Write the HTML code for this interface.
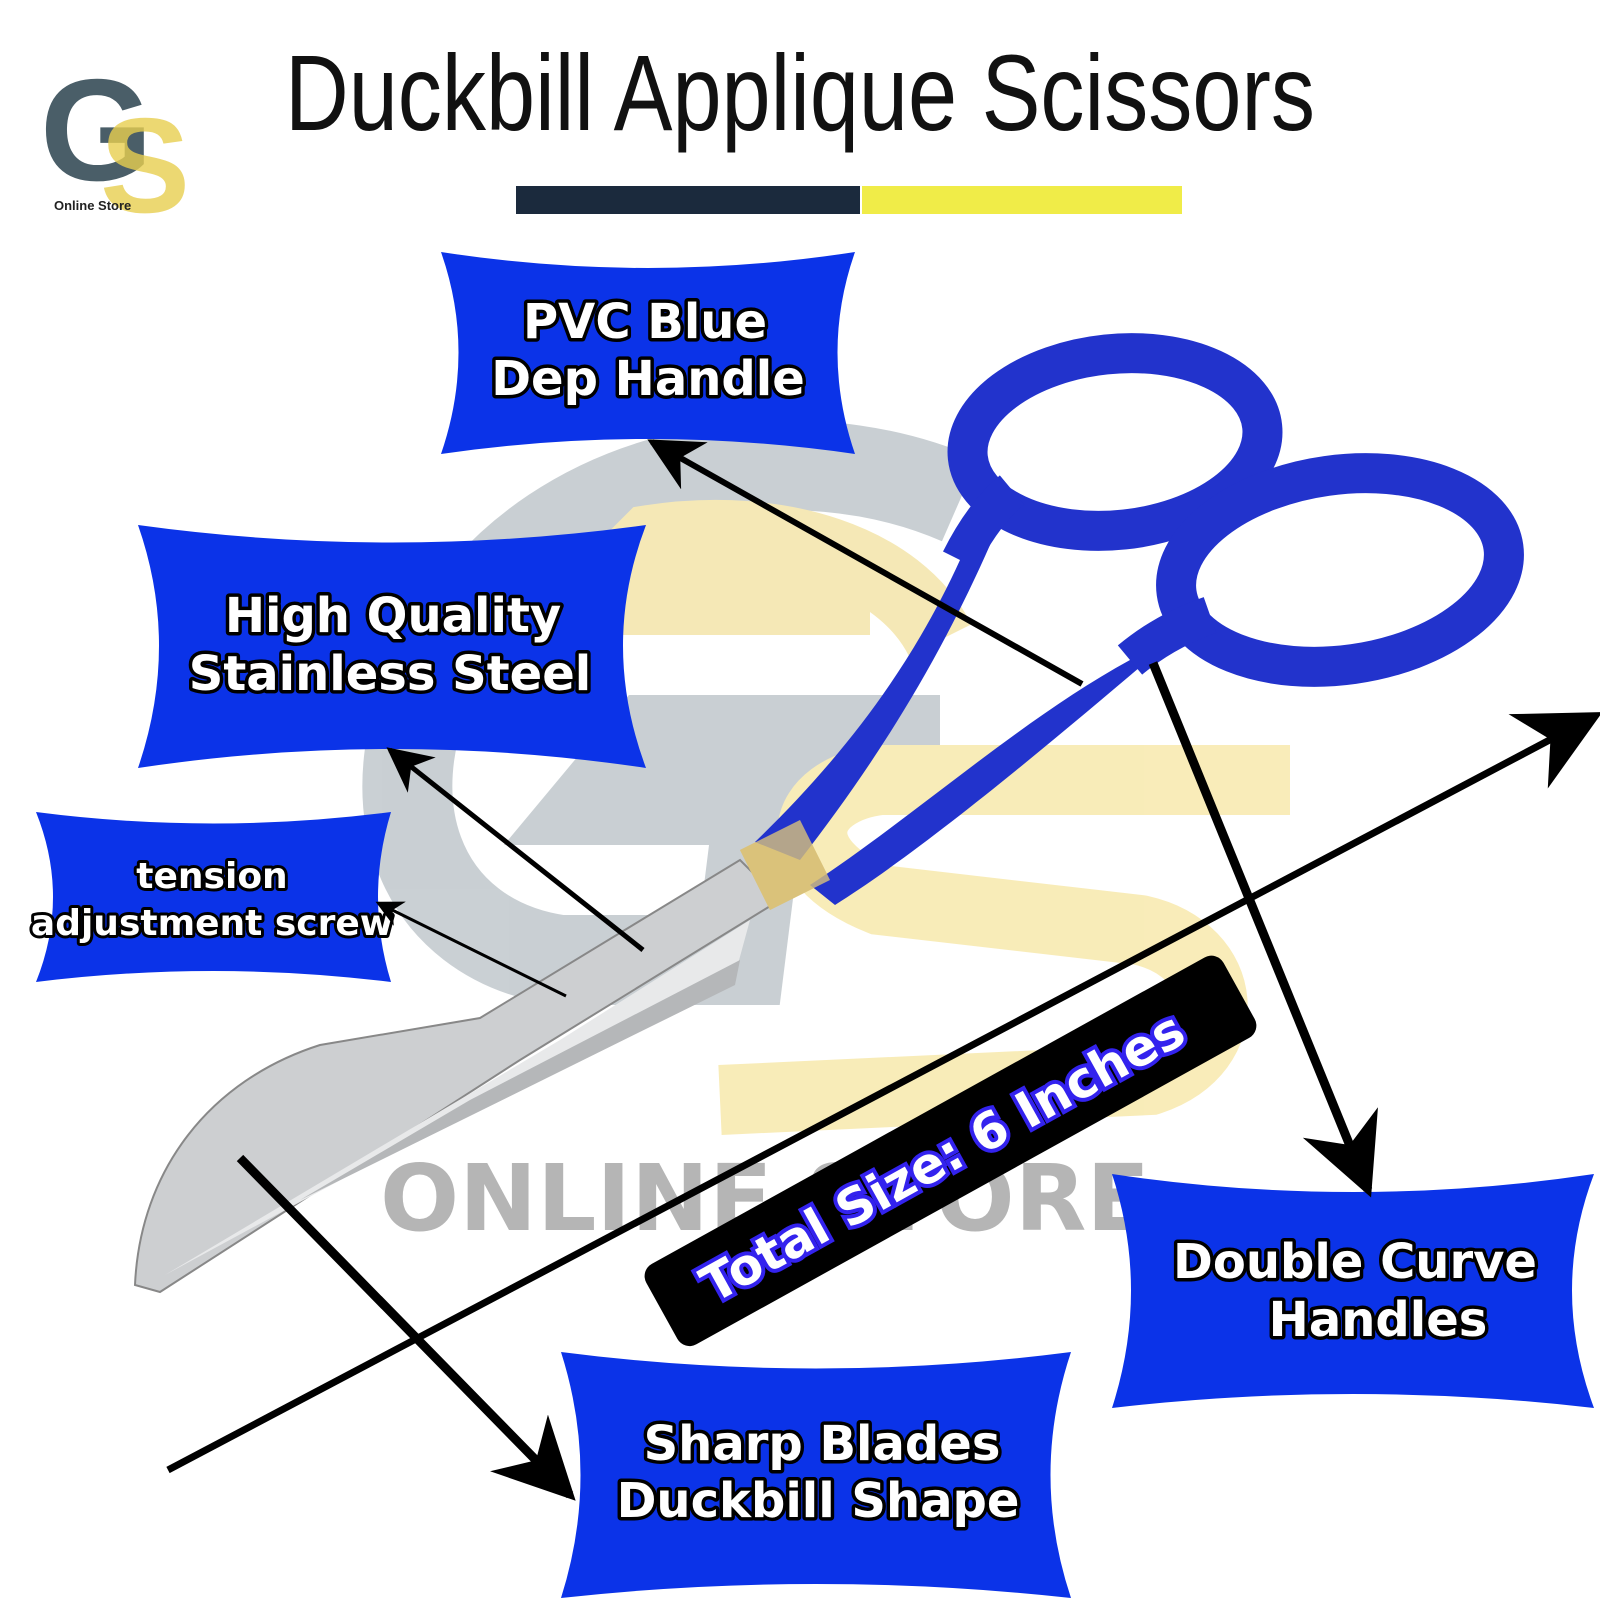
<!DOCTYPE html>
<html><head><meta charset="utf-8"><style>
html,body{margin:0;padding:0;background:#fff;}
svg{display:block}
.lbl{font-family:"DejaVu Sans","Liberation Sans",sans-serif;font-weight:bold;fill:#fff;stroke:#000;stroke-width:7px;paint-order:stroke;stroke-linejoin:round;text-anchor:middle}
</style></head><body>
<svg width="1600" height="1600" viewBox="0 0 1600 1600" xmlns="http://www.w3.org/2000/svg">
<defs>
<marker id="ah" viewBox="0 0 10 10" refX="9" refY="5" markerWidth="9" markerHeight="9" orient="auto" markerUnits="strokeWidth"><path d="M0,0 L10,5 L0,10 L3,5 z" fill="#000"/></marker>
<marker id="ah2" viewBox="0 0 10 10" refX="9" refY="5" markerWidth="12" markerHeight="12" orient="auto" markerUnits="strokeWidth"><path d="M0,0 L10,5 L0,10 L3,5 z" fill="#000"/></marker>
<marker id="ah3" viewBox="0 0 10 10" refX="9" refY="5" markerWidth="9" markerHeight="9" orient="auto" markerUnits="strokeWidth"><path d="M0,0 L10,5 L0,10 L3,5 z" fill="#000"/></marker>
</defs>
<rect width="1600" height="1600" fill="#fff"/>

<!-- Logo -->
<text x="40" y="180" font-family="Liberation Sans,sans-serif" font-weight="bold" font-size="145" fill="#4a5e68">G</text>
<text x="100" y="212" font-family="Liberation Sans,sans-serif" font-weight="bold" font-size="135" fill="#e8cf50" opacity="0.8">S</text>
<text x="54" y="210" font-family="Liberation Sans,sans-serif" font-weight="bold" font-size="13" fill="#222">Online Store</text>

<!-- Title -->
<text x="800" y="130" text-anchor="middle" font-family="Liberation Sans,sans-serif" font-size="108" fill="#111" textLength="1030" lengthAdjust="spacingAndGlyphs">Duckbill Applique Scissors</text>
<rect x="516" y="186" width="344" height="28" fill="#1b2a3d"/>
<rect x="862" y="186" width="320" height="28" fill="#f0ec48"/>

<!-- watermark -->
<g opacity="0.4">
<path d="M960,500 C800,430 560,460 450,640 C360,800 420,940 560,960 L740,960 L760,800 L600,800 L650,740 L940,740" fill="none" stroke="#7a8a94" stroke-width="90"/>
<path d="M940,640 C900,560 780,520 650,540 L590,600 L870,600" fill="none" stroke="#e8c84a" stroke-width="70"/>
<path d="M1290,780 L880,780 C800,790 780,860 880,900 L1140,930 C1230,950 1240,1050 1150,1080 L720,1100" fill="none" stroke="#f0d050" stroke-width="70"/>
</g>

<!-- Scissors blades -->
<path d="M135,1285 C140,1170 210,1080 320,1045 L480,1018 L740,860 L780,900 L520,1060 L160,1292 Z" fill="#cdcfd1" stroke="#888" stroke-width="2"/>
<path d="M165,1275 L560,1040 L750,920 L735,975 L470,1110 Z" fill="#e8e9ea"/>
<path d="M470,1100 L740,960 L735,985 L300,1200 Z" fill="#b5b7b9"/>
<path d="M740,850 L800,820 L830,880 L770,910 Z" fill="#d9c27a"/>
<!-- handles -->
<path d="M755,842 C840,760 910,670 960,560 L990,545 C935,670 870,770 800,860 Z" fill="#2233cc"/>
<path d="M810,885 C910,820 1020,720 1130,660 L1160,650 C1060,735 930,845 835,905 Z" fill="#2233cc"/>
<path d="M740,850 L800,820 L830,880 L770,910 Z" fill="#d9c27a" opacity="0.8"/>
<ellipse cx="1115" cy="442" rx="148" ry="88" transform="rotate(-6 1115 442)" fill="none" stroke="#2233cc" stroke-width="40"/>
<ellipse cx="1340" cy="570" rx="165" ry="95" transform="rotate(-8 1340 570)" fill="none" stroke="#2233cc" stroke-width="40"/>
<path d="M960,560 C980,520 1000,500 1012,490" stroke="#2233cc" stroke-width="38" fill="none"/>
<path d="M1130,660 C1160,635 1190,622 1210,615" stroke="#2233cc" stroke-width="38" fill="none"/>

<text x="380" y="1230" font-family="DejaVu Sans,sans-serif" font-weight="bold" font-size="92" fill="#7a7a7a" opacity="0.55" textLength="770" lengthAdjust="spacingAndGlyphs">ONLINE STORE</text>

<!-- Blue banners -->
<path d="M441,252 Q648,284 855,252 Q820,352 855,454 Q648,424 441,454 Q476,352 441,252 Z" fill="#0b33e8"/>
<path d="M138,525 Q392,560 646,525 Q600,645 646,768 Q392,730 138,768 Q180,645 138,525 Z" fill="#0b33e8"/>
<path d="M36,812 Q213,835 391,812 Q365,897 391,982 Q213,960 36,982 Q70,897 36,812 Z" fill="#0b33e8"/>
<path d="M1112,1174 Q1353,1210 1594,1174 Q1550,1290 1594,1408 Q1353,1380 1112,1408 Q1150,1290 1112,1174 Z" fill="#0b33e8"/>
<path d="M561,1352 Q816,1385 1071,1352 Q1030,1475 1071,1598 Q816,1570 561,1598 Q600,1475 561,1352 Z" fill="#0b33e8"/>

<text class="lbl" font-size="48"><tspan x="645" y="338">PVC Blue</tspan><tspan x="648" y="395">Dep Handle</tspan></text>
<text class="lbl" font-size="48"><tspan x="393" y="632">High Quality</tspan><tspan x="390" y="690">Stainless Steel</tspan></text>
<text class="lbl" font-size="36" style="stroke-width:6px"><tspan x="212" y="888">tension</tspan><tspan x="212" y="935">adjustment screw</tspan></text>
<text class="lbl" font-size="48"><tspan x="1355" y="1278">Double Curve</tspan><tspan x="1378" y="1336">Handles</tspan></text>
<text class="lbl" font-size="48"><tspan x="822" y="1460">Sharp Blades</tspan><tspan x="818" y="1517">Duckbill Shape</tspan></text>

<!-- Arrows -->
<line x1="1082" y1="684" x2="652" y2="442" stroke="#000" stroke-width="6" marker-end="url(#ah3)"/>
<line x1="643" y1="950" x2="390" y2="750" stroke="#000" stroke-width="5" marker-end="url(#ah3)"/>
<line x1="566" y1="996" x2="378" y2="903" stroke="#000" stroke-width="3" marker-end="url(#ah3)"/>
<line x1="1153" y1="663" x2="1368" y2="1190" stroke="#000" stroke-width="9" marker-end="url(#ah)"/>
<line x1="240" y1="1158" x2="570" y2="1495" stroke="#000" stroke-width="9" marker-end="url(#ah)"/>
<line x1="168" y1="1470" x2="1595" y2="716" stroke="#000" stroke-width="7" marker-end="url(#ah2)"/>

<!-- Size tag -->
<g transform="translate(950,1150) rotate(-29)">
<rect x="-330" y="-45" width="660" height="92" rx="14" fill="#000"/>
<text x="-10" y="20" text-anchor="middle" font-family="DejaVu Sans,sans-serif" font-weight="bold" font-size="50" fill="#fff" stroke="#3322ee" stroke-width="8" paint-order="stroke">Total Size: 6 Inches</text>
</g>
</svg>
</body></html>
